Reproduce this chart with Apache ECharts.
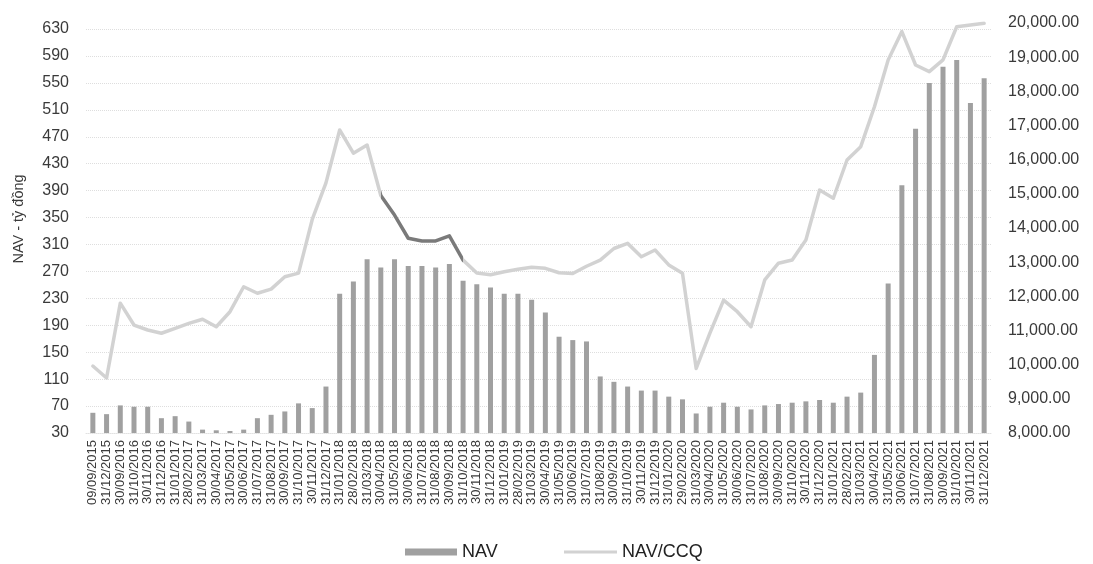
<!DOCTYPE html>
<html>
<head>
<meta charset="utf-8">
<script src="https://cdn.jsdelivr.net/npm/echarts@6/dist/echarts.min.js"></script>
<style>
  html, body { margin: 0; padding: 0; background: #fff; }
  #chart { width: 1093px; height: 564px; }
</style>
</head>
<body>
<div id="chart"></div>
<script>
// Month-end reporting dates
const dates = [
  '09/09/2015', '31/12/2015', '30/09/2016', '31/10/2016', '30/11/2016', '31/12/2016',
  '31/01/2017', '28/02/2017', '31/03/2017', '30/04/2017', '31/05/2017', '30/06/2017',
  '31/07/2017', '31/08/2017', '30/09/2017', '31/10/2017', '30/11/2017', '31/12/2017',
  '31/01/2018', '28/02/2018', '31/03/2018', '30/04/2018', '31/05/2018', '30/06/2018',
  '31/07/2018', '31/08/2018', '30/09/2018', '31/10/2018', '30/11/2018', '31/12/2018',
  '31/01/2019', '28/02/2019', '31/03/2019', '30/04/2019', '31/05/2019', '30/06/2019',
  '31/07/2019', '31/08/2019', '30/09/2019', '31/10/2019', '30/11/2019', '31/12/2019',
  '31/01/2020', '29/02/2020', '31/03/2020', '30/04/2020', '31/05/2020', '30/06/2020',
  '31/07/2020', '31/08/2020', '30/09/2020', '31/10/2020', '30/11/2020', '31/12/2020',
  '31/01/2021', '28/02/2021', '31/03/2021', '30/04/2021', '31/05/2021', '30/06/2021',
  '31/07/2021', '31/08/2021', '30/09/2021', '31/10/2021', '30/11/2021', '31/12/2021'
];

// Fund NAV, billion VND
const nav = [
  60, 58, 71, 69, 69, 52,
  55, 47, 35, 34, 33, 35,
  52, 57, 62, 74, 67, 99,
  237, 255, 288, 276, 288, 278,
  278, 276, 281, 256, 251, 246,
  237, 237, 228, 209, 173, 168,
  166, 114, 106, 99, 93, 93,
  84, 80, 59, 69, 75, 69,
  65, 71, 73, 75, 77, 79,
  75, 84, 90, 146, 252, 398,
  482, 550, 574, 584, 520, 557
];

// NAV per fund certificate, VND
const navPerUnit = [
  9960, 9610, 11800, 11160, 11015, 10920,
  11064, 11210, 11330, 11110, 11550, 12280,
  12090, 12210, 12575, 12680, 14250, 15320,
  16870, 16190, 16430, 14950, 14380, 13700,
  13620, 13620, 13770, 13060, 12680, 12630,
  12720, 12790, 12850, 12820, 12690, 12670,
  12880, 13060, 13400, 13550, 13160, 13356,
  12920, 12675, 9890, 10920, 11890, 11550,
  11110, 12480, 12970, 13064, 13650, 15110,
  14870, 15990, 16380, 17550, 18920, 19750,
  18770, 18575, 18920, 19890, 19940, 19990
];

const leftTicks = { min: 30, max: 639, step: 40 };
const rightTicks = { min: 8000, max: 20000, step: 1000 };

function fmtMoney(v) {
  const s = Math.round(v).toString().replace(/\B(?=(\d{3})+(?!\d))/g, ',');
  return s + '.00';
}

const font = '"Liberation Sans", Arial, sans-serif';
const textColor = '#3a3a3a';
const barColor = '#a0a0a0';
const lineColor = '#d2d2d2';
const lineDark = '#7a7a7a';

const chart = echarts.init(document.getElementById('chart'), null, { renderer: 'canvas' });

const legendText = { fontFamily: font, fontSize: 18, color: '#222' };

chart.setOption({
  animation: false,
  backgroundColor: '#ffffff',
  textStyle: { fontFamily: font },
  grid: { left: 86, right: 102, top: 23, bottom: 131, containLabel: false },
  legend: [
    {
      left: 400,
      top: 538,
      itemWidth: 52,
      itemHeight: 7,
      textStyle: legendText,
      data: [{ name: 'NAV', icon: 'rect', itemStyle: { color: barColor } }]
    },
    {
      left: 559,
      top: 538,
      itemWidth: 53,
      itemHeight: 3,
      textStyle: legendText,
      data: [{ name: 'NAV/CCQ', icon: 'rect', itemStyle: { color: lineColor } }]
    }
  ],
  xAxis: {
    type: 'category',
    data: dates,
    boundaryGap: true,
    axisLine: { show: true, lineStyle: { color: '#e2e2e2', width: 1, type: 'dotted' } },
    axisTick: { show: false },
    axisLabel: {
      interval: 0,
      rotate: 90,
      margin: 7,
      fontFamily: font,
      fontSize: 13,
      color: textColor
    }
  },
  yAxis: [
    {
      type: 'value',
      name: 'NAV - tỷ đồng',
      nameLocation: 'middle',
      nameRotate: 90,
      nameGap: 60,
      nameTextStyle: { fontFamily: font, fontSize: 14.5, color: textColor, padding: [0, 0, 0, 18] },
      min: leftTicks.min,
      max: leftTicks.max,
      interval: leftTicks.step,
      axisLine: { show: false },
      axisTick: { show: false },
      axisLabel: {
        margin: 17,
        fontFamily: font,
        fontSize: 16,
        color: textColor,
        showMaxLabel: false
      },
      splitLine: { show: true, showMaxLine: false, lineStyle: { color: '#dedede', width: 1, type: 'dotted' } }
    },
    {
      type: 'value',
      min: rightTicks.min,
      max: rightTicks.max,
      interval: rightTicks.step,
      position: 'right',
      axisLine: { show: false },
      axisTick: { show: false },
      axisLabel: {
        margin: 17,
        fontFamily: font,
        fontSize: 16,
        color: textColor,
        formatter: fmtMoney
      },
      splitLine: { show: false }
    }
  ],
  visualMap: {
    show: false,
    type: 'piecewise',
    seriesIndex: 1,
    dimension: 0,
    pieces: [
      { lt: 21.4, color: lineColor },
      { gte: 21.4, lte: 26.9, color: lineDark },
      { gt: 26.9, color: lineColor }
    ]
  },
  series: [
    {
      name: 'NAV',
      type: 'bar',
      yAxisIndex: 0,
      data: nav,
      barWidth: 5,
      itemStyle: { color: barColor }
    },
    {
      name: 'NAV/CCQ',
      type: 'line',
      yAxisIndex: 1,
      data: navPerUnit,
      symbol: 'none',
      smooth: false,
      lineStyle: { width: 3.5, join: 'round', cap: 'round' },
      z: 3
    }
  ]
});
</script>
</body>
</html>
